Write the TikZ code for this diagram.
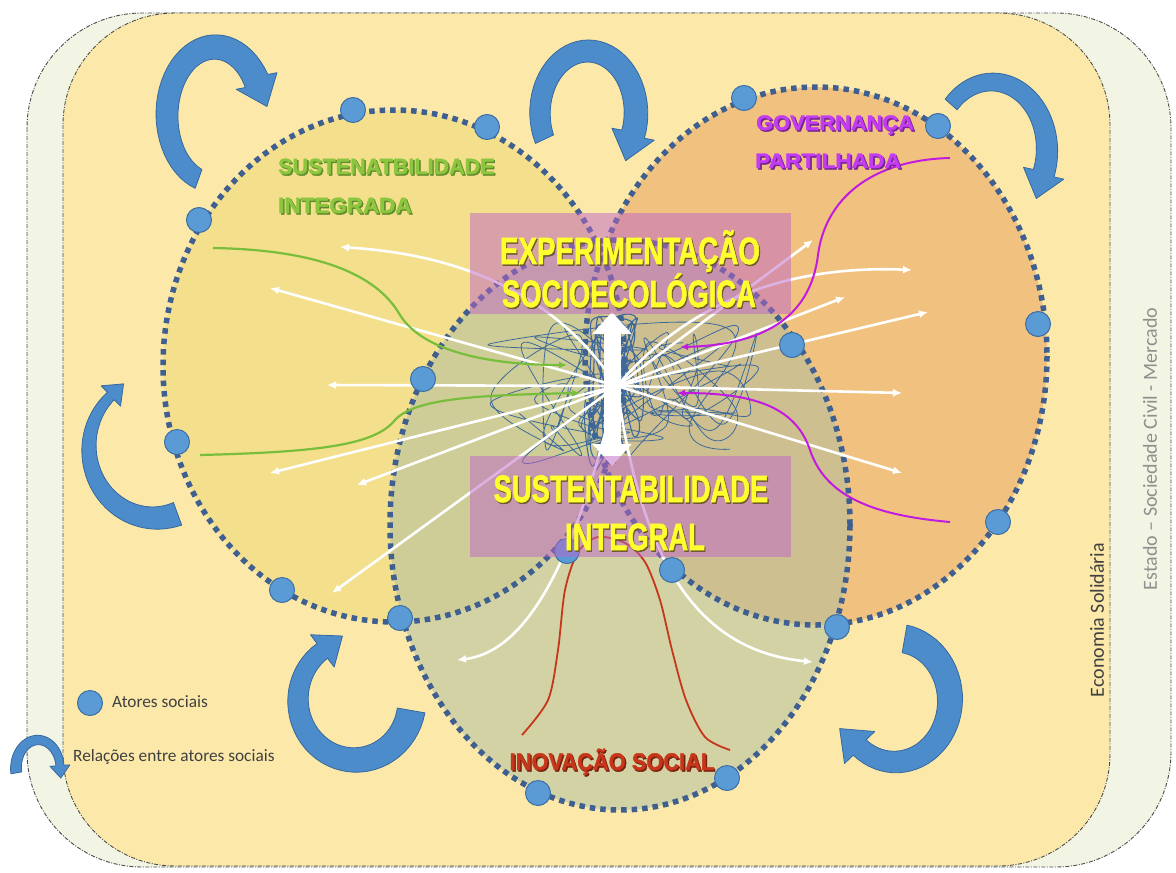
\documentclass[tikz,border=0pt]{standalone}
\usepackage{fontspec}
\setmainfont{Liberation Sans}
\newfontfamily\heavyfont[FakeBold=1.8]{Liberation Sans}
\newfontfamily\calfont{Carlito}
\usetikzlibrary{arrows.meta}

\definecolor{outerfill}{HTML}{F2F5E3}
\definecolor{innerfill}{HTML}{FCE9A9}
\definecolor{leftfill}{HTML}{F3DF8C}
\definecolor{rightfill}{HTML}{F1C27F}
\definecolor{greenfill}{RGB}{170,189,162}
\definecolor{dotblue}{HTML}{3E5F8F}
\definecolor{actorblue}{HTML}{5B9BD5}
\definecolor{actoredge}{HTML}{3B6EA5}
\definecolor{bandblue}{HTML}{4C8CCB}
\definecolor{bandedge}{HTML}{35689E}
\definecolor{boxpink}{RGB}{190,100,200}
\definecolor{textyellow}{HTML}{FFFF2E}
\definecolor{shadowc}{HTML}{6E5A2A}
\definecolor{leaftext}{HTML}{8CC63F}
\definecolor{leafline}{HTML}{78BE3C}
\definecolor{govline}{HTML}{C21BE0}
\definecolor{govtext}{HTML}{C43CF2}
\definecolor{innovred}{HTML}{C8361A}
\definecolor{tanglec}{HTML}{3D6A9A}
\definecolor{darkgraytext}{HTML}{404040}
\definecolor{lightgraytext}{HTML}{8F8F8F}

% text with a dark drop shadow
\newcommand\shtext[3]{\leavevmode\rlap{\kern1.5pt\raisebox{-1.5pt}{\textcolor{#2}{#3}}}\textcolor{#1}{#3}}
% heavy heading: size, horizontal scale, colour, shadow colour, text
\newcommand\heading[5]{\scalebox{#2}[1]{\fontsize{#1}{#1}\selectfont\heavyfont\bfseries\shtext{#3}{#4}{#5}}}

% curved block arrow along an elliptic arc:
% cx, cy, rx, ry, start angle, end angle, start width, end width, head half-width
\newcommand\bendarrow[9]{%
\begin{scope}[shift={(#1,#2)}]
\pgfmathsetmacro\BAd{((#6)>(#5))?1:-1}
\pgfmathsetmacro\BAtx{-(#3)*sin(#6)*\BAd}
\pgfmathsetmacro\BAty{(#4)*cos(#6)*\BAd}
\pgfmathsetmacro\BAtl{veclen(\BAtx,\BAty)}
\pgfmathsetmacro\BAux{\BAtx/\BAtl}
\pgfmathsetmacro\BAuy{\BAty/\BAtl}
\pgfmathsetmacro\BAbx{(#3)*cos(#6)}
\pgfmathsetmacro\BAby{(#4)*sin(#6)}
\filldraw[bandarrow]
  plot[domain=0:1,samples=40,variable=\t]
    ({((#3)+((#7)+((#8)-(#7))*\t)/2)*cos((#5)+((#6)-(#5))*\t)},
     {((#4)+((#7)+((#8)-(#7))*\t)/2)*sin((#5)+((#6)-(#5))*\t)})
  -- ({\BAbx+\BAd*(#9)*\BAuy},{\BAby-\BAd*(#9)*\BAux})
  -- ({\BAbx+1.25*(#9)*\BAux},{\BAby+1.25*(#9)*\BAuy})
  -- ({\BAbx-\BAd*(#9)*\BAuy},{\BAby+\BAd*(#9)*\BAux})
  -- plot[domain=1:0,samples=40,variable=\t]
    ({((#3)-((#7)+((#8)-(#7))*\t)/2)*cos((#5)+((#6)-(#5))*\t)},
     {((#4)-((#7)+((#8)-(#7))*\t)/2)*sin((#5)+((#6)-(#5))*\t)})
  -- cycle;
\end{scope}}

\begin{document}
\begin{tikzpicture}[x=1pt,y=-1pt,line join=round,
  frameline/.style={draw=black!70,line width=0.9pt,dash pattern=on 4pt off 1.5pt on 1pt off 1.5pt},
  dotline/.style={draw=dotblue,line width=5.5pt,dash pattern=on 5.5pt off 5pt},
  actor/.style={circle,fill=actorblue,draw=actoredge,line width=1pt,minimum size=25pt,inner sep=0pt},
  warrow/.style={draw=white,line width=2.6pt,-{Latex[length=9pt,width=8pt]}},
  garrow/.style={draw=leafline,line width=2.2pt,-{Latex[length=8pt,width=7pt]}},
  marrow/.style={draw=govline,line width=2pt,-{Latex[length=8pt,width=7pt]}},
  bandarrow/.style={fill=bandblue,draw=bandedge,line width=0.8pt},
  tangle/.style={draw=tanglec,line width=0.8pt},
  infobox/.style={fill=boxpink,fill opacity=0.5,minimum width=321pt,minimum height=101pt,inner sep=0pt},
  legendtext/.style={inner sep=0pt,font=\calfont\fontsize{17.3}{20}\selectfont,text=darkgraytext}]
\useasboundingbox (0,0) rectangle (1176,873);

% outer and inner frames
\draw[frameline,fill=outerfill,rounded corners=115pt] (27,13) rectangle (1171,867);
\draw[frameline,fill=innerfill,rounded corners=112pt] (63,13) rectangle (1110,866);

% the three spheres
\coordinate (cL) at (394,366);
\coordinate (cR) at (816,356);
\coordinate (cB) at (620,525);
\fill[leftfill] (cL) ellipse [x radius=231,y radius=256];
\fill[rightfill] (cR) ellipse [x radius=231,y radius=269];
\fill[greenfill,fill opacity=0.5] (cB) ellipse [x radius=230,y radius=285];
\draw[dotline] (cL) ellipse [x radius=231,y radius=256];
\draw[dotline] (cR) ellipse [x radius=231,y radius=269];
\draw[dotline] (cB) ellipse [x radius=230,y radius=285];

% relations between actors
\bendarrow{215}{115}{48}{68}{110}{330}{20}{26}{22}
\bendarrow{588}{113}{48}{62}{155}{380}{20}{24}{22}
\bendarrow{992}{150}{55}{68}{222}{380}{16}{22}{21}
\bendarrow{155}{448}{66}{70}{70}{228}{24}{10}{14}
\bendarrow{355}{700}{57}{60}{10}{235}{28}{18}{20}
\bendarrow{895}{700}{55}{62}{-80}{130}{28}{20}{22}

% tangle of interactions in the middle
\pgfmathsetseed{11}
\draw[tangle] plot[smooth,tension=0.7,samples=30,domain=1:30,variable=\k] ({618+135*rand},{390+68*rand});
\draw[tangle] plot[smooth,tension=0.7,samples=25,domain=1:25,variable=\k] ({560+70*rand},{395+70*rand});
\draw[tangle] plot[smooth,tension=0.7,samples=25,domain=1:25,variable=\k] ({690+70*rand},{385+55*rand});
\draw[tangle,line width=1.1pt] plot[smooth,samples=55,domain=1:55,variable=\k] ({614+28*rand},{392+78*rand});

% radiating arrows
\coordinate (hub) at (617,386);
\coordinate (wl1) at (340,247);
\coordinate (wl2) at (270,288);
\coordinate (wl3) at (327,385);
\coordinate (wl4) at (270,473);
\coordinate (wl5) at (357,485);
\coordinate (wl6) at (332,593);
\coordinate (wl7) at (457,660);
\coordinate (wr1) at (813,240);
\coordinate (wr2) at (912,270);
\coordinate (wr3) at (845,297);
\coordinate (wr4) at (928,312);
\coordinate (wr5) at (902,393);
\coordinate (wr6) at (902,473);
\coordinate (wr7) at (813,662);
\draw[warrow] (hub) .. controls (560,300) and (470,255) .. (wl1);
\foreach \e in {wl2,wl3,wl4,wl5,wl6,wr1,wr3,wr4,wr5,wr6}
  \draw[warrow] (hub) -- (\e);
\draw[warrow] (hub) .. controls (585,520) and (540,650) .. (wl7);
\draw[warrow] (hub) .. controls (690,300) and (790,265) .. (wr2);
\draw[warrow] (hub) .. controls (640,550) and (690,650) .. (wr7);

% integrated sustainability flows
\coordinate (gs1) at (213,248);
\coordinate (ge1) at (567,365);
\coordinate (gs2) at (200,455);
\coordinate (ge2) at (580,393);
\draw[garrow] (gs1) .. controls (330,250) and (380,280) .. (400,315) .. controls (425,355) and (500,365) .. (ge1);
\draw[garrow] (gs2) .. controls (320,452) and (375,445) .. (395,420) .. controls (415,398) and (480,395) .. (ge2);

% shared governance flows
\coordinate (ms1) at (950,158);
\coordinate (me1) at (680,347);
\coordinate (ms2) at (950,522);
\coordinate (me2) at (677,393);
\draw[marrow] (ms1) .. controls (870,160) and (825,200) .. (818,255) .. controls (810,320) and (760,345) .. (me1);
\draw[marrow] (ms2) .. controls (870,515) and (825,495) .. (810,450) .. controls (795,405) and (750,393) .. (me2);

% social innovation curve
\draw[innovred,line width=1.8pt] plot[smooth] coordinates {(522,735) (548,700) (558,650) (565,590) (578,552) (598,537) (625,543) (645,562) (660,600) (672,650) (686,700) (705,737) (730,750)};

% two-way link between experimentation and sustainability
\coordinate (dtop) at (612,312);
\coordinate (dbot) at (612,466);
\draw[white,line width=17pt,{Triangle[length=22pt,width=38pt]}-{Triangle[length=22pt,width=38pt]}] (dtop) -- (dbot);

% social actors
\node[actor] (a1) at (353,110) {};
\node[actor] (a2) at (487,127) {};
\node[actor] (a3) at (199,220) {};
\node[actor] (a4) at (177,442) {};
\node[actor] (a5) at (282,590) {};
\node[actor] (a6) at (400,618) {};
\node[actor] (a7) at (423,379) {};
\node[actor] (a8) at (792,345) {};
\node[actor] (a9) at (567,551) {};
\node[actor] (a10) at (672,570) {};
\node[actor] (a11) at (744,98) {};
\node[actor] (a12) at (938,126) {};
\node[actor] (a13) at (1038,324) {};
\node[actor] (a14) at (998,522) {};
\node[actor] (a15) at (837,627) {};
\node[actor] (a16) at (538,793) {};
\node[actor] (a17) at (727,778) {};

% central boxes
\node[infobox] (boxtop) at (630.5,263) {};
\node[infobox] (boxbot) at (630.5,506) {};

% headings
\node[anchor=base,inner sep=0pt] (exp) at (630,264) {\heading{38}{0.73}{textyellow}{shadowc}{EXPERIMENTAÇÃO}};
\node[anchor=base,inner sep=0pt] (soc) at (629,307) {\heading{38}{0.72}{textyellow}{shadowc}{SOCIOECOLÓGICA}};
\node[anchor=base,inner sep=0pt] (sus) at (631,502) {\heading{38}{0.72}{textyellow}{shadowc}{SUSTENTABILIDADE}};
\node[anchor=base,inner sep=0pt] (itg) at (635,550) {\heading{38}{0.72}{textyellow}{shadowc}{INTEGRAL}};
\node[anchor=base west,inner sep=0pt] (sin1) at (278,174) {\heading{22}{0.98}{leaftext}{leaftext!70!black}{SUSTENATBILIDADE}};
\node[anchor=base west,inner sep=0pt] (sin2) at (278,213) {\heading{22}{1.02}{leaftext}{leaftext!70!black}{INTEGRADA}};
\node[anchor=base west,inner sep=0pt] (gov1) at (756,130) {\heading{21}{1.04}{govtext}{govtext!60!black}{GOVERNANÇA}};
\node[anchor=base west,inner sep=0pt] (gov2) at (755,168) {\heading{21}{1.08}{govtext}{govtext!60!black}{PARTILHADA}};
\node[anchor=base,inner sep=0pt] (inov) at (612,770) {\heading{24}{0.91}{innovred}{innovred!60!black}{INOVAÇÃO SOCIAL}};

% side labels
\node[rotate=90,inner sep=0pt,font=\calfont\fontsize{20}{22}\selectfont,text=darkgraytext] (eco) at (1097,620) {Economia Solidária};
\node[rotate=90,inner sep=0pt,font=\calfont\fontsize{20}{22}\selectfont,text=lightgraytext] (est) at (1150,449) {Estado – Sociedade Civil - Mercado};

% legend
\node[actor] (legactor) at (90,703) {};
\node[legendtext,anchor=west] (legactortext) at (112,702) {Atores sociais};
\bendarrow{38}{768}{22}{28}{170}{355}{11}{8}{10}
\node[legendtext,anchor=west] (legreltext) at (73,757) {Relações entre atores sociais};
\end{tikzpicture}
\end{document}
